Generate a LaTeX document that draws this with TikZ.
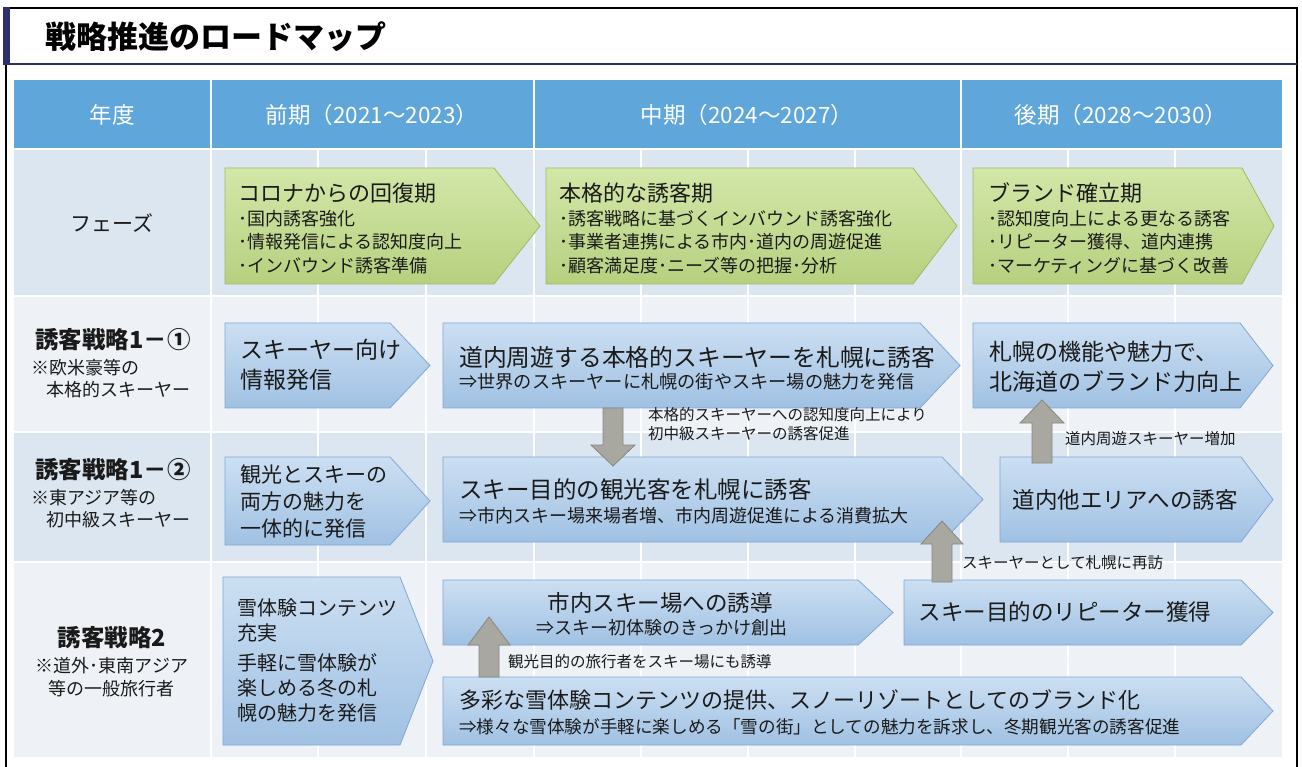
\documentclass[tikz,border=0pt]{standalone}
\usepackage{fontspec}
\setmainfont{Noto Sans CJK JP}
\usetikzlibrary{calc}
\definecolor{navy}{HTML}{2B2F6B}
\definecolor{hdr}{HTML}{5FA6DA}
\definecolor{rowA}{HTML}{DCE6F1}
\definecolor{rowB}{HTML}{EEF2F7}
\definecolor{gTop}{HTML}{D3E7A8}
\definecolor{gBot}{HTML}{B6D07F}
\definecolor{gBrd}{HTML}{9DBB62}
\definecolor{bTop}{HTML}{CCDFF2}
\definecolor{bBot}{HTML}{A0C1E3}
\definecolor{bBrd}{HTML}{7FA7D5}
\definecolor{grayF}{HTML}{A8A7A0}
\definecolor{grayB}{HTML}{87877F}
\definecolor{ink}{HTML}{1A1A1A}
\newcommand\fs[2]{\fontsize{#1}{#2}\selectfont}
% pentagon arrow box: name, style, x1, y1, xtip, y2, tip depth
\newcommand\pent[7]{%
  \path[#2] (#3,#4) -- ({#5-#7},#4) -- (#5,{(#4+#6)/2}) -- ({#5-#7},#6) -- (#3,#6) -- cycle;
  \coordinate (#1) at ({(#3+#5)/2},{(#4+#6)/2});
}
% block arrow: xc, ytail, ybase, ytip, shaft half, head half
\newcommand\garrow[6]{%
  \path[grayarrow] ({#1-#5},#2) -- ({#1-#5},#3) -- ({#1-#6},#3) -- (#1,#4) -- ({#1+#6},#3) -- ({#1+#5},#3) -- ({#1+#5},#2) -- cycle;
}
\tikzset{
  greenbox/.style={draw=gBrd, line width=0.8pt, top color=gTop, bottom color=gBot},
  bluebox/.style={draw=bBrd, line width=0.8pt, top color=bTop, bottom color=bBot},
  grayarrow/.style={draw=grayB, line width=0.8pt, fill=grayF},
  lt/.style={inner sep=0pt, anchor=west, align=left, text=ink},
  ct/.style={inner sep=0pt, anchor=center, align=center, text=ink},
  hd/.style={inner sep=0pt, text=white, font=\fs{22.5}{26}},
  note/.style={inner sep=0pt, anchor=west, align=left, text=ink, font=\fs{15.5}{19}},
}
\begin{document}
\begin{tikzpicture}[x=1pt,y=-1pt]
\useasboundingbox (0,0) rectangle (1302,767);
\fill[white] (0,0) rectangle (1302,767);
% frame
\draw[line width=2pt] (3,8) -- (1297,8) -- (1297,767);
\draw[line width=2pt] (6,64) -- (6,767);
\fill[navy] (3,7) rectangle (10,65);
\draw[navy, line width=2pt] (3,64) -- (1297,64);
\node[inner sep=0pt, anchor=west, font=\fs{31}{36}\bfseries] (title) at (45,37) {戦略推進のロードマップ};
% table
\fill[hdr] (14,80) rectangle (1282,148);
\fill[rowA] (14,150) rectangle (1282,295);
\fill[rowB] (14,297) rectangle (1282,431);
\fill[rowA] (14,433) rectangle (1282,561);
\fill[rowB] (14,563) rectangle (1282,757);
\foreach \x in {211,534,961} \draw[white, line width=2pt] (\x,80) -- (\x,757);
\foreach \x in {318,426,641,748,855,1068,1175} \draw[white, line width=1.3pt] (\x,150) -- (\x,757);
% header
\node[hd] (h0) at (112,115) {年度};
\node[hd] (h1) at (372,115) {前期（2021～2023）};
\node[hd] (h2) at (747,115) {中期（2024～2027）};
\node[hd] (h3) at (1121,115) {後期（2028～2030）};
% row labels
\node[ct, font=\fs{21}{25}] (l0) at (112,223) {フェーズ};
\node[lt, font=\fs{23.5}{27}\bfseries] (l1a) at (35,340) {誘客戦略1－①};
\node[lt, font=\fs{18}{22}] (l1b) at (31,379) {※欧米豪等の\\\hspace{15pt}本格的スキーヤー};
\node[lt, font=\fs{23.5}{27}\bfseries] (l2a) at (35,470) {誘客戦略1－②};
\node[lt, font=\fs{18}{22}] (l2b) at (31,509) {※東アジア等の\\\hspace{15pt}初中級スキーヤー};
\node[ct, font=\fs{23.5}{27}\bfseries] (l3a) at (112,638) {誘客戦略2};
\node[ct, font=\fs{18}{22.5}] (l3b) at (112,677) {※道外･東南アジア\\等の一般旅行者};
% phase arrows
\pent{g1}{greenbox}{225}{168}{540}{284}{46}
\pent{g2}{greenbox}{546}{168}{957}{284}{44}
\pent{g3}{greenbox}{973}{168}{1274}{284}{32}
\node[lt, font=\fs{22}{26}] (g1t) at (238,193) {コロナからの回復期};
\node[lt, font=\fs{18}{23.5}] (g1b) at (238,242) {･国内誘客強化\\･情報発信による認知度向上\\･インバウンド誘客準備};
\node[lt, font=\fs{22}{26}] (g2t) at (559,193) {本格的な誘客期};
\node[lt, font=\fs{18}{23.5}] (g2b) at (559,242) {･誘客戦略に基づくインバウンド誘客強化\\･事業者連携による市内･道内の周遊促進\\･顧客満足度･ニーズ等の把握･分析};
\node[lt, font=\fs{22}{26}] (g3t) at (988,193) {ブランド確立期};
\node[lt, font=\fs{18}{23.5}] (g3b) at (988,242) {･認知度向上による更なる誘客\\･リピーター獲得、道内連携\\･マーケティングに基づく改善};
% row 1-1
\pent{b11}{bluebox}{225}{323}{430}{408}{40}
\pent{b12}{bluebox}{443}{323}{960}{408}{40}
\pent{b13}{bluebox}{973}{323}{1273}{408}{33}
\node[lt, font=\fs{23}{30}] (b11t) at (240,365) {スキーヤー向け\\情報発信};
\node[lt, font=\fs{23.8}{27}] (b12t) at (459,357) {道内周遊する本格的スキーヤーを札幌に誘客};
\node[lt, font=\fs{18.2}{22}] (b12s) at (459,382) {⇒世界のスキーヤーに札幌の街やスキー場の魅力を発信};
\node[lt, font=\fs{23}{30}] (b13t) at (989,367) {札幌の機能や魅力で、\\北海道のブランド力向上};
% row 1-2
\pent{b21}{bluebox}{225}{457}{430}{545}{40}
\pent{b22}{bluebox}{443}{457}{983}{542}{41}
\pent{b23}{bluebox}{1000}{457}{1273}{542}{32}
\node[lt, font=\fs{21}{27}] (b21t) at (240,502) {観光とスキーの\\両方の魅力を\\一体的に発信};
\node[lt, font=\fs{23.5}{27}] (b22t) at (459,490) {スキー目的の観光客を札幌に誘客};
\node[lt, font=\fs{18}{22}] (b22s) at (459,516) {⇒市内スキー場来場者増、市内周遊促進による消費拡大};
\node[ct, font=\fs{22.5}{27}] (b23t) at (1125,500) {道内他エリアへの誘客};
% row 2
\pent{b31}{bluebox}{223}{577}{433}{745}{33}
\node[lt, font=\fs{20}{25}] (b31a) at (237,620) {雪体験コンテンツ\\充実};
\node[lt, font=\fs{20}{25}] (b31b) at (237,688) {手軽に雪体験が\\楽しめる冬の札\\幌の魅力を発信};
\pent{b32}{bluebox}{443}{580}{893}{645}{35}
\node[ct, font=\fs{22.5}{26}] (b32t) at (660,603) {市内スキー場への誘導};
\node[ct, font=\fs{18}{22}] (b32s) at (662,628) {⇒スキー初体験のきっかけ創出};
\pent{b33}{bluebox}{904}{580}{1273}{645}{32}
\node[ct, font=\fs{22.5}{27}] (b33t) at (1065,612) {スキー目的のリピーター獲得};
\pent{b34}{bluebox}{443}{677}{1273}{745}{32}
\node[lt, font=\fs{22}{26}] (b34t) at (459,700) {多彩な雪体験コンテンツの提供、スノーリゾートとしてのブランド化};
\node[lt, font=\fs{17.6}{22}] (b34s) at (459,727) {⇒様々な雪体験が手軽に楽しめる「雪の街」としての魅力を訴求し、冬期観光客の誘客促進};
% gray block arrows
\garrow{613}{408}{445}{466}{10}{22}
\garrow{1042}{463}{423}{400}{10}{22}
\garrow{942}{582}{544}{521}{10}{21}
\garrow{489}{677}{645}{617}{10}{21}
% annotations
\node[note] (n1) at (648,424) {本格的スキーヤーへの認知度向上により\\初中級スキーヤーの誘客促進};
\node[note] (n2) at (1065,439) {道内周遊スキーヤー増加};
\node[note] (n3) at (962,563) {スキーヤーとして札幌に再訪};
\node[note] (n4) at (508,662) {観光目的の旅行者をスキー場にも誘導};
\end{tikzpicture}
\end{document}
